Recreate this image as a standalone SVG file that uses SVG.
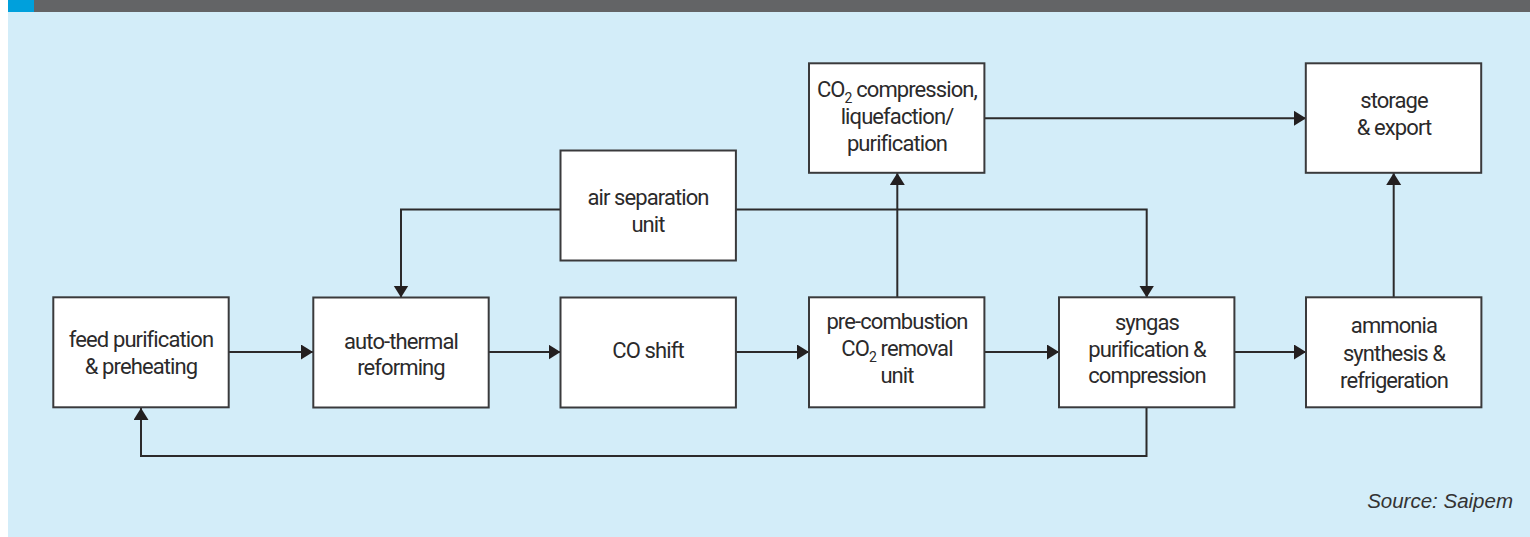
<svg xmlns="http://www.w3.org/2000/svg" width="1530" height="537" viewBox="0 0 1530 537">
<style>
.bg{fill:#d3edf9}
.box{fill:#ffffff;stroke:#3a3a3c;stroke-width:2}
.lbl{font-family:Roboto,"Liberation Sans",sans-serif;font-size:22px;letter-spacing:-0.9px;fill:#2b2a2b;text-anchor:middle}
.sub{font-size:14px}
.conn{fill:none;stroke:#2b2a2b;stroke-width:2}
.src{font-family:"Liberation Sans",Arial,sans-serif;font-style:italic;font-size:20.5px;fill:#333333;text-anchor:end}
</style>
<defs>
<marker id="arr" markerUnits="userSpaceOnUse" markerWidth="14" markerHeight="16" refX="12" refY="7.5" orient="auto">
<path d="M0,0 L12,7.5 L0,15 Z" fill="#231f20"/>
</marker>
</defs>
<rect x="8" y="0" width="1522" height="537" class="bg"/>
<rect x="8" y="0" width="1522" height="12" fill="#636466"/>
<rect x="8" y="0" width="26" height="12" fill="#00a0dc"/>

<g id="connectors">
<path class="conn" d="M228.7,352 H313" marker-end="url(#arr)"/>
<path class="conn" d="M488.7,352 H560.5" marker-end="url(#arr)"/>
<path class="conn" d="M736,352 H809" marker-end="url(#arr)"/>
<path class="conn" d="M984.5,352 H1059" marker-end="url(#arr)"/>
<path class="conn" d="M1234.5,352 H1306" marker-end="url(#arr)"/>
<path class="conn" d="M1146.5,407.5 V456 H141 V408" marker-end="url(#arr)"/>
<path class="conn" d="M560.5,209.5 H401 V297.5" marker-end="url(#arr)"/>
<path class="conn" d="M735.7,209.5 H1146.7 V297.5" marker-end="url(#arr)"/>
<path class="conn" d="M897.3,297.5 V173" marker-end="url(#arr)"/>
<path class="conn" d="M985,118.3 H1306" marker-end="url(#arr)"/>
<path class="conn" d="M1393.7,297.5 V173" marker-end="url(#arr)"/>
</g>

<g id="feed">
<rect class="box" x="53.3" y="297.3" width="175.4" height="110"/>
<text class="lbl" x="141" y="347">feed purification</text>
<text class="lbl" x="141" y="373.5">&amp; preheating</text>
</g>
<g id="atr">
<rect class="box" x="313.3" y="297.5" width="175.4" height="110"/>
<text class="lbl" x="401" y="349">auto-thermal</text>
<text class="lbl" x="401" y="375">reforming</text>
</g>
<g id="coshift">
<rect class="box" x="560.5" y="297.5" width="175.4" height="110"/>
<text class="lbl" x="648" y="358">CO shift</text>
</g>
<g id="precomb">
<rect class="box" x="809" y="297.3" width="175.4" height="110"/>
<text class="lbl" x="897" y="328.5">pre-combustion</text>
<text class="lbl" x="897" y="356">CO<tspan class="sub" dy="6">2</tspan><tspan dy="-6"> removal</tspan></text>
<text class="lbl" x="897" y="383.3">unit</text>
</g>
<g id="syngas">
<rect class="box" x="1059" y="297.3" width="175.4" height="110"/>
<text class="lbl" x="1147" y="330">syngas</text>
<text class="lbl" x="1147" y="356.7">purification &amp;</text>
<text class="lbl" x="1147" y="383">compression</text>
</g>
<g id="ammonia">
<rect class="box" x="1306" y="297.3" width="175.4" height="110"/>
<text class="lbl" x="1394" y="333">ammonia</text>
<text class="lbl" x="1394" y="360.5">synthesis &amp;</text>
<text class="lbl" x="1394" y="387.5">refrigeration</text>
</g>
<g id="airsep">
<rect class="box" x="560.5" y="150.5" width="175.4" height="110"/>
<text class="lbl" x="648" y="204.5">air separation</text>
<text class="lbl" x="648" y="232">unit</text>
</g>
<g id="co2comp">
<rect class="box" x="809" y="63.3" width="175.4" height="109.5"/>
<text class="lbl" x="897" y="96.7">CO<tspan class="sub" dy="6">2</tspan><tspan dy="-6"> compression,</tspan></text>
<text class="lbl" x="897" y="124">liquefaction/</text>
<text class="lbl" x="897" y="150.7">purification</text>
</g>
<g id="storage">
<rect class="box" x="1305.8" y="63.3" width="175.4" height="109.5"/>
<text class="lbl" x="1394" y="108.3">storage</text>
<text class="lbl" x="1394" y="135">&amp; export</text>
</g>
<text class="src" x="1513" y="508">Source: Saipem</text>
</svg>
